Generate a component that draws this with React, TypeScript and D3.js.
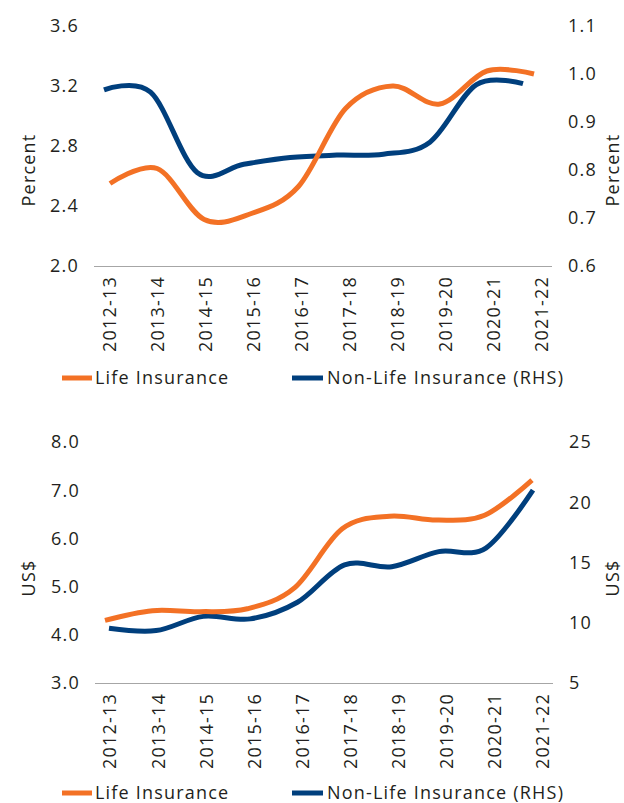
import React from "react";
import * as d3 from "d3";

// ---- data ----
const categories = [
  "2012-13", "2013-14", "2014-15", "2015-16", "2016-17",
  "2017-18", "2018-19", "2019-20", "2020-21", "2021-22",
];
// Top panel: insurance penetration (percent)
const lifePenetration = [2.55, 2.65, 2.31, 2.35, 2.53, 3.05, 3.2, 3.08, 3.3, 3.28];
const nonLifePenetration = [0.967, 0.962, 0.795, 0.812, 0.826, 0.831, 0.833, 0.858, 0.978, 0.98];
const penetrationLeftTicks = [2.0, 2.4, 2.8, 3.2, 3.6];
const penetrationRightTicks = [0.6, 0.7, 0.8, 0.9, 1.0, 1.1];
// Bottom panel: insurance density (US$)
const lifeDensity = [4.3, 4.5, 4.48, 4.54, 4.98, 6.2, 6.46, 6.38, 6.48, 7.21];
const nonLifeDensity = [9.55, 9.35, 10.53, 10.32, 11.7, 14.8, 14.65, 15.9, 16.2, 21.0];
const densityLeftTicks = [3.0, 4.0, 5.0, 6.0, 7.0, 8.0];
const densityRightTicks = [5, 10, 15, 20, 25];

const legendLabels = ["Life Insurance", "Non-Life Insurance (RHS)"];

// ---- styles ----
const ORANGE = "#F37125";
const BLUE = "#003F7D";
const TEXT = "#231F20";
const FONT = "'Open Sans', sans-serif";
const FS = 18;
const LS = 1.2;

type PanelProps = {
  top: number;
  bottom: number;
  axisX: [number, number];
  labelRange: [number, number];
  lifeRange: [number, number];
  nonLifeRange: [number, number];
  leftDomain: [number, number];
  rightDomain: [number, number];
  leftTicks: number[];
  rightTicks: number[];
  leftFmt: (n: number) => string;
  rightFmt: (n: number) => string;
  life: number[];
  nonLife: number[];
  title: string;
  titleY: number;
  legendY: number;
};

function Panel(p: PanelProps) {
  const yL = d3.scaleLinear().domain(p.leftDomain).range([p.bottom, p.top]);
  const yR = d3.scaleLinear().domain(p.rightDomain).range([p.bottom, p.top]);
  const xLabel = d3.scalePoint<string>().domain(categories).range(p.labelRange);
  const xLife = d3.scalePoint<string>().domain(categories).range(p.lifeRange);
  const xNon = d3.scalePoint<string>().domain(categories).range(p.nonLifeRange);
  const curve = d3.curveCardinal.tension(0);
  const lifeLine = d3
    .line<number>()
    .x((_, i) => xLife(categories[i])!)
    .y((d) => yL(d))
    .curve(curve);
  const nonLine = d3
    .line<number>()
    .x((_, i) => xNon(categories[i])!)
    .y((d) => yR(d))
    .curve(curve);
  const textProps = {
    fontFamily: FONT,
    fontSize: FS,
    fill: TEXT,
    letterSpacing: LS,
  };
  return (
    <g>
      {/* axis line */}
      <line
        x1={p.axisX[0]}
        x2={p.axisX[1]}
        y1={p.bottom + 0.5}
        y2={p.bottom + 0.5}
        stroke="#A6A6A6"
        strokeWidth={1.2}
      />
      {/* left ticks */}
      {p.leftTicks.map((t) => (
        <text key={"l" + t} x={p.axisX[0] - 15} y={yL(t)} dy="0.36em" textAnchor="end" {...textProps}>
          {p.leftFmt(t)}
        </text>
      ))}
      {/* right ticks */}
      {p.rightTicks.map((t) => (
        <text key={"r" + t} x={p.axisX[1] + 16} y={yR(t)} dy="0.36em" textAnchor="start" {...textProps}>
          {p.rightFmt(t)}
        </text>
      ))}
      {/* axis titles */}
      <text
        transform={`translate(29,${p.titleY}) rotate(-90)`}
        dy="0.36em"
        textAnchor="middle"
        {...textProps}
      >
        {p.title}
      </text>
      <text
        transform={`translate(613,${p.titleY}) rotate(-90)`}
        dy="0.36em"
        textAnchor="middle"
        {...textProps}
      >
        {p.title}
      </text>
      {/* category labels */}
      {categories.map((c) => (
        <text
          key={c}
          transform={`translate(${xLabel(c)},${p.bottom + 10}) rotate(-90)`}
          dy="0.36em"
          textAnchor="end"
          {...textProps}
        >
          {c}
        </text>
      ))}
      {/* series */}
      <path d={nonLine(p.nonLife)!} fill="none" stroke={BLUE} strokeWidth={5} />
      <path d={lifeLine(p.life)!} fill="none" stroke={ORANGE} strokeWidth={5} />
      {/* legend */}
      <line x1={62} x2={92} y1={p.legendY} y2={p.legendY} stroke={ORANGE} strokeWidth={5} />
      <text x={95} y={p.legendY} dy="0.36em" {...textProps}>
        {legendLabels[0]}
      </text>
      <line x1={292} x2={323} y1={p.legendY} y2={p.legendY} stroke={BLUE} strokeWidth={5} />
      <text x={327} y={p.legendY} dy="0.36em" {...textProps}>
        {legendLabels[1]}
      </text>
    </g>
  );
}

export default function App() {
  const f1 = d3.format(".1f");
  const f0 = d3.format("d");
  return (
    <svg
      width={624}
      height={803}
      style={{ position: "absolute", left: 0, top: 0, background: "#fff" }}
    >
      <Panel
        top={26}
        bottom={266}
        axisX={[94, 552]}
        labelRange={[110, 542]}
        lifeRange={[110, 534]}
        nonLifeRange={[104, 523]}
        leftDomain={[2.0, 3.6]}
        rightDomain={[0.6, 1.1]}
        leftTicks={penetrationLeftTicks}
        rightTicks={penetrationRightTicks}
        leftFmt={f1}
        rightFmt={f1}
        life={lifePenetration}
        nonLife={nonLifePenetration}
        title="Percent"
        titleY={170}
        legendY={378}
      />
      <Panel
        top={442}
        bottom={683}
        axisX={[95, 553]}
        labelRange={[110, 543]}
        lifeRange={[105, 532]}
        nonLifeRange={[109, 533]}
        leftDomain={[3, 8]}
        rightDomain={[5, 25]}
        leftTicks={densityLeftTicks}
        rightTicks={densityRightTicks}
        leftFmt={f1}
        rightFmt={f0}
        life={lifeDensity}
        nonLife={nonLifeDensity}
        title="US$"
        titleY={578}
        legendY={793}
      />
    </svg>
  );
}
